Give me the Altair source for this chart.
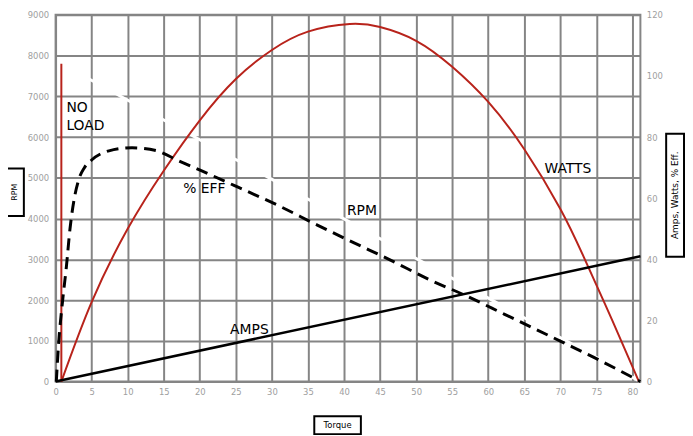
import altair as alt
import pandas as pd

# ---- data ----
rpm_torque = [0.8, 81.1]
rpm_values = [7800, 0]

noload_torque = [0.8, 0.8]
noload_rpm = [0, 7800]

watts_torque = [0.8, 5, 10, 15, 20, 25, 30, 35, 40.8, 45, 50, 55, 60, 65, 70, 73.3, 77.2, 80.9]
watts_values = [0, 26, 50, 69, 85.5, 99, 108.5, 114.5, 117, 116, 111.5, 103, 91.5, 76, 56.5, 40.5, 20, 0]

eff_torque = [0.1, 0.4, 1.0, 1.5, 2.0, 2.6, 3.2, 4.0, 5.0, 7.4, 10.6, 13.9, 17.0, 20.2, 25.3, 30.8,
              36.3, 41.4, 46.3, 51.8, 57.0, 62.2, 70.2, 75.0, 81.1]
eff_values = [0, 11.7, 27, 37.6, 50, 60, 66, 70, 72.5, 75.5, 76.5, 75.6, 72.3, 69, 63.6, 57.7,
              51.2, 45.4, 39.9, 33.4, 28, 22.1, 13, 7.5, 0]

amps_torque = [0, 81.1]
amps_values = [0, 41]

label_text = ["NO", "LOAD", "% EFF", "RPM", "WATTS", "AMPS"]
label_torque = [1.5, 1.5, 17.7, 40.4, 67.8, 24.2]
label_rpm = [6616, 6178, 4620, 4087, 5108, 1168]

x_ticks = list(range(0, 81, 5))
left_ticks = list(range(0, 9001, 1000))
right_ticks = list(range(0, 121, 20))

RED = "#b8231b"
FONT = "DejaVu Sans"
GRID = "#858585"

# ---- tables ----
rpm_df = pd.DataFrame({"torque": rpm_torque, "rpm": rpm_values})
noload_df = pd.DataFrame({"torque": noload_torque, "rpm": noload_rpm})
watts_df = pd.DataFrame({"torque": watts_torque, "val": watts_values})
eff_df = pd.DataFrame({"torque": eff_torque, "val": eff_values})
amps_df = pd.DataFrame({"torque": amps_torque, "val": amps_values})
lab_df = pd.DataFrame({"torque": label_torque, "rpm": label_rpm, "label": label_text})

X = alt.X("torque:Q",
          scale=alt.Scale(domain=[0, 81.1], nice=False, zero=False),
          axis=alt.Axis(values=x_ticks, title=None, grid=True, labelPadding=6,
                        labelFlush=False, format="d"))
YL = alt.Y("rpm:Q",
           scale=alt.Scale(domain=[0, 9000], nice=False),
           axis=alt.Axis(values=left_ticks, title=None, grid=True, orient="left",
                         labelPadding=7, format="d"))
YR = alt.Y("val:Q",
           scale=alt.Scale(domain=[0, 120], nice=False),
           axis=alt.Axis(values=right_ticks, title=None, grid=False, orient="right",
                         labelPadding=6, format="d"))

rpm_line = alt.Chart(rpm_df).mark_line(color="white", strokeWidth=3).encode(x=X, y=YL)
noload_line = alt.Chart(noload_df).mark_line(color=RED, strokeWidth=2).encode(x=X, y=YL)
labels = alt.Chart(lab_df).mark_text(align="left", baseline="alphabetic", font=FONT,
                                     fontSize=14, color="black").encode(x=X, y=YL, text="label:N")

left = alt.layer(rpm_line, noload_line, labels)

watts_line = alt.Chart(watts_df).mark_line(color=RED, strokeWidth=2,
                                           interpolate="natural").encode(x=X, y=YR)
eff_line = alt.Chart(eff_df).mark_line(color="black", strokeWidth=3, strokeDash=[12, 7],
                                       interpolate="monotone").encode(x=X, y=YR)
amps_line = alt.Chart(amps_df).mark_line(color="black", strokeWidth=2.5).encode(x=X, y=YR)

right = alt.layer(watts_line, eff_line, amps_line)

one = alt.Data(values=[{"a": 1}])
box_style = dict(fill="white", stroke="black", strokeWidth=2)
box_left = alt.Chart(one).mark_rect(**box_style).encode(
    x=alt.value(-49), x2=alt.value(-32), y=alt.value(155), y2=alt.value(203))
box_right = alt.Chart(one).mark_rect(**box_style).encode(
    x=alt.value(616), x2=alt.value(634), y=alt.value(120), y2=alt.value(244))
box_bottom = alt.Chart(one).mark_rect(**box_style).encode(
    x=alt.value(261), x2=alt.value(308), y=alt.value(405), y2=alt.value(423))
t_left = alt.Chart(one).mark_text(text="RPM", angle=270, font=FONT, fontSize=8,
                                  align="center", baseline="middle", color="black").encode(
    x=alt.value(-40.5), y=alt.value(179))
t_right = alt.Chart(one).mark_text(text="Amps, Watts, % Eff.", angle=270, font=FONT, fontSize=9,
                                   align="center", baseline="middle", color="black").encode(
    x=alt.value(625), y=alt.value(182))
t_bottom = alt.Chart(one).mark_text(text="Torque", font=FONT, fontSize=8.5,
                                    align="center", baseline="middle", color="black").encode(
    x=alt.value(284.5), y=alt.value(414))

boxes = alt.layer(box_left, box_right, box_bottom, t_left, t_right, t_bottom)

chart = alt.layer(left, right, boxes).resolve_scale(y="independent").properties(
    width=590, height=370,
    autosize=alt.AutoSizeParams(type="none"),
    padding={"left": 48, "top": 5, "right": 45, "bottom": 53},
    background="white",
).configure_view(
    stroke=GRID, strokeWidth=2
).configure_axis(
    labelColor="#a0a0a0", labelFont=FONT, labelFontSize=8.5,
    gridColor=GRID, gridWidth=2, gridOpacity=1,
    domain=False, ticks=False,
)

chart.save("out.html", embed_options={"renderer": "svg", "actions": False})
